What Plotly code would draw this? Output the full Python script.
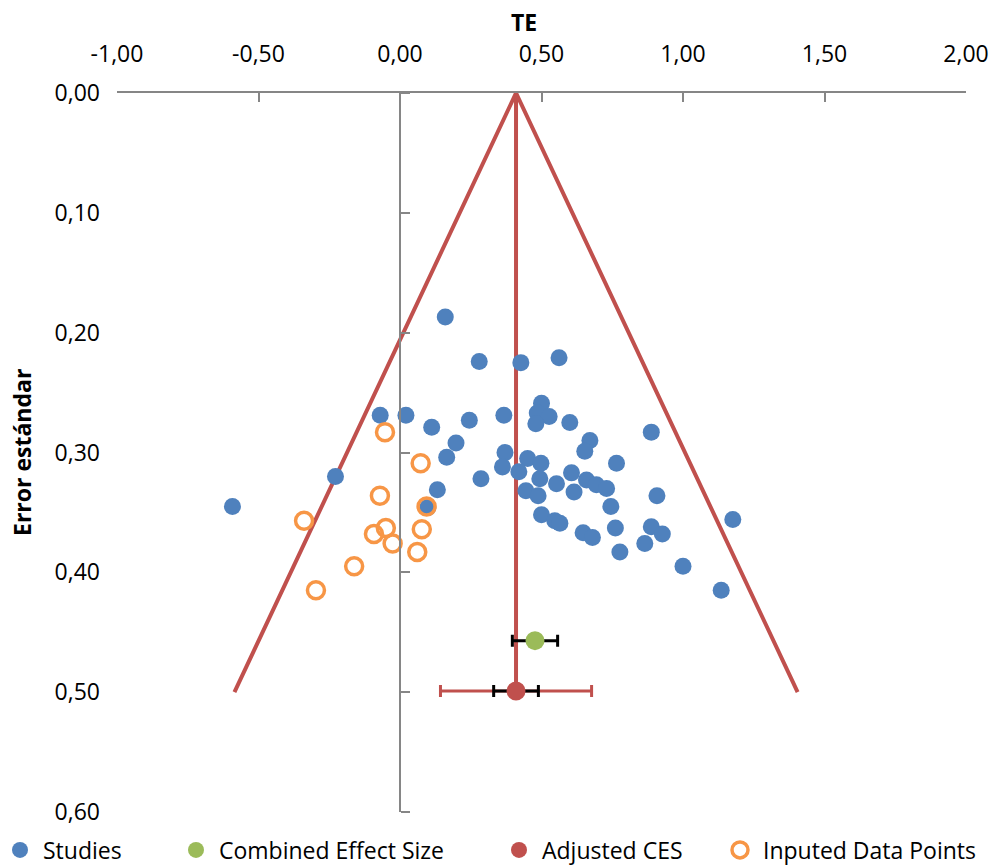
import plotly.graph_objects as go

# ---- data ----
studies_te = [0.160, 0.280, 0.427, 0.562, -0.070, 0.021, 0.112, 0.245, 0.367, 0.500,
              0.485, 0.527, 0.480, 0.600, 0.198, 0.888, 0.671, 0.653, 0.165, 0.371,
              0.362, 0.286, 0.451, 0.498, 0.420, 0.494, 0.445, 0.488, 0.553, 0.606,
              0.615, 0.659, 0.694, 0.730, 0.765, 0.745, 0.908, 0.500, 0.547, 0.565,
              0.647, 0.680, 0.761, 0.777, 0.865, 0.888, 0.927, 1.000, 1.135, 1.176,
              0.132, 0.098, -0.228, -0.592]
studies_se = [0.187, 0.224, 0.225, 0.221, 0.269, 0.269, 0.279, 0.273, 0.269, 0.259,
              0.267, 0.270, 0.276, 0.275, 0.292, 0.283, 0.290, 0.299, 0.304, 0.300,
              0.312, 0.322, 0.305, 0.309, 0.316, 0.322, 0.332, 0.336, 0.326, 0.317,
              0.333, 0.323, 0.327, 0.330, 0.309, 0.345, 0.336, 0.352, 0.357, 0.359,
              0.367, 0.371, 0.363, 0.383, 0.376, 0.362, 0.368, 0.395, 0.415, 0.356,
              0.331, 0.346, 0.320, 0.345]

imputed_te = [-0.053, 0.073, -0.071, 0.094, -0.339, -0.050, -0.092, 0.077, -0.026, 0.061, -0.162, -0.297]
imputed_se = [0.283, 0.309, 0.336, 0.345, 0.357, 0.363, 0.368, 0.364, 0.376, 0.383, 0.395, 0.415]

ces_te, ces_se, ces_ci = 0.477, 0.457, 0.080
adj_te, adj_se, adj_ci, adj_pi = 0.41, 0.499, 0.079, 0.267

funnel_x = [-0.585, 0.41, 1.405]
funnel_y = [0.5, 0.0, 0.5]
center_x = [0.41, 0.41]
center_y = [0.0, 0.5]

x_ticks = [-1.0, -0.5, 0.0, 0.5, 1.0, 1.5, 2.0]
x_ticktext = ["-1,00", "-0,50", "0,00", "0,50", "1,00", "1,50", "2,00"]
y_ticks = [0.0, 0.1, 0.2, 0.3, 0.4, 0.5, 0.6]
y_ticktext = ["0,00", "0,10", "0,20", "0,30", "0,40", "0,50", "0,60"]

BLUE = "#4F81BD"
GREEN = "#9BBB59"
RED = "#C0504D"
ORANGE = "#F79646"
GRAY = "#868686"
FONT = "Open Sans"
FS = 23

# layout geometry (pixels)
W, H = 993, 865
ML, MR, MT, MB = 117, 27, 93, 53
PW = W - ML - MR


def px_to_paper_x(px):
    return (px - ML) / PW


fig = go.Figure()

# funnel
fig.add_trace(go.Scatter(x=funnel_x, y=funnel_y, mode="lines",
                         line=dict(color=RED, width=4), showlegend=False, hoverinfo="skip"))
fig.add_trace(go.Scatter(x=center_x, y=center_y, mode="lines",
                         line=dict(color=RED, width=4), showlegend=False, hoverinfo="skip"))

# studies
fig.add_trace(go.Scatter(x=studies_te, y=studies_se, mode="markers", name="Studies",
                         marker=dict(color=BLUE, size=17, line=dict(width=0)), legend="legend"))

# imputed
fig.add_trace(go.Scatter(x=imputed_te, y=imputed_se, mode="markers", name="Inputed Data Points",
                         marker=dict(color="rgba(0,0,0,0)", size=17, line=dict(color=ORANGE, width=3.5)),
                         legend="legend4"))

# combined effect size
fig.add_trace(go.Scatter(x=[ces_te], y=[ces_se], mode="markers", name="Combined Effect Size",
                         marker=dict(color=GREEN, size=19),
                         error_x=dict(type="constant", value=ces_ci, color="black", thickness=3, width=6),
                         legend="legend2"))

# adjusted CES
fig.add_trace(go.Scatter(x=[adj_te], y=[adj_se], mode="markers", showlegend=False,
                         marker=dict(color="rgba(0,0,0,0)", size=1),
                         error_x=dict(type="constant", value=adj_pi, color=RED, thickness=3, width=6),
                         hoverinfo="skip"))
fig.add_trace(go.Scatter(x=[adj_te], y=[adj_se], mode="markers", showlegend=False,
                         marker=dict(color="rgba(0,0,0,0)", size=1),
                         error_x=dict(type="constant", value=adj_ci, color="black", thickness=3, width=6),
                         hoverinfo="skip"))
fig.add_trace(go.Scatter(x=[adj_te], y=[adj_se], mode="markers", name="Adjusted CES",
                         marker=dict(color=RED, size=19), legend="legend3"))

# dummy for axis at x=0
fig.add_trace(go.Scatter(x=[None], y=[None], yaxis="y2", showlegend=False, hoverinfo="skip"))

legend_y = -(850 - (H - MB)) / (H - MT - MB)


def leg(marker_px):
    return dict(orientation="h", x=px_to_paper_x(marker_px - 20), xanchor="left",
                y=legend_y, yanchor="middle", font=dict(size=FS),
                bgcolor="rgba(0,0,0,0)", itemwidth=36)


fig.update_layout(
    width=W, height=H,
    margin=dict(l=ML, r=MR, t=MT, b=MB, autoexpand=False),
    paper_bgcolor="white", plot_bgcolor="white",
    font=dict(family=FONT, size=FS, color="#000000"),
    xaxis=dict(range=[-1, 2], side="top", tickvals=x_ticks, ticktext=x_ticktext,
               showline=True, linecolor=GRAY, linewidth=2,
               ticks="inside", ticklen=9, tickwidth=2, tickcolor=GRAY,
               showgrid=False, zeroline=False, ticklabelstandoff=20,
               tickfont=dict(size=FS), automargin=False),
    yaxis=dict(range=[0.6, 0], tickvals=y_ticks, ticktext=y_ticktext,
               showline=False, ticks="", showgrid=False, zeroline=False,
               ticklabelstandoff=16, tickfont=dict(size=FS), automargin=False),
    yaxis2=dict(range=[0.6, 0], overlaying="y", anchor="free", position=1/3, side="right",
                tickvals=y_ticks, showticklabels=False, showline=True, linecolor=GRAY,
                linewidth=2, ticks="outside", ticklen=9, tickwidth=2, tickcolor=GRAY,
                showgrid=False, zeroline=False, automargin=False),
    legend=leg(17),
    legend2=leg(193),
    legend3=leg(516),
    legend4=leg(737),
    annotations=[
        dict(text="<b>TE</b>", xref="paper", yref="paper", x=px_to_paper_x(524),
             y=1 + (MT - 22) / (H - MT - MB), yanchor="middle",
             showarrow=False, font=dict(size=FS)),
        dict(text="<b>Error estándar</b>", xref="paper", yref="paper", x=px_to_paper_x(22),
             xanchor="center", y=(H - MB - 453) / (H - MT - MB),
             textangle=-90, showarrow=False, font=dict(size=FS)),
    ],
)

fig.write_html("out.html", config={"displayModeBar": False},
               post_script="document.body.style.margin='0';document.body.style.overflow='hidden';")
